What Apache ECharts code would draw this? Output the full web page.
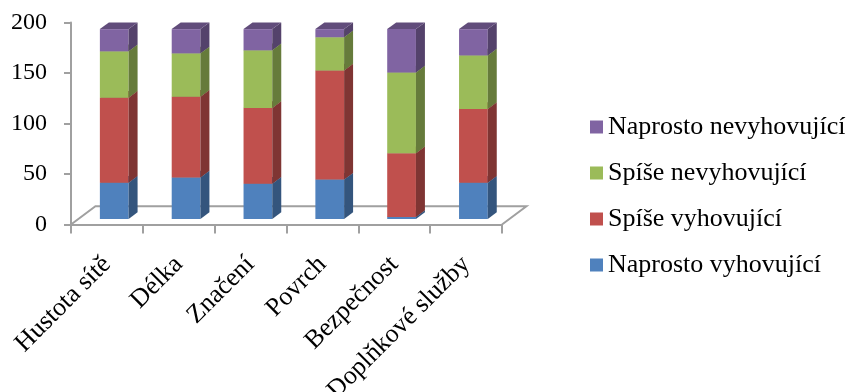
<!DOCTYPE html>
<html>
<head>
<meta charset="utf-8">
<script src="https://cdn.jsdelivr.net/npm/echarts@6/dist/echarts.min.js"></script>
<style>
  html, body { margin: 0; padding: 0; background: #fff; }
  #chart { width: 854px; height: 392px; }
</style>
</head>
<body>
<div id="chart"></div>
<script>
// Hodnocení cyklostezek – počty odpovědí podle kategorie
const categories = ['Hustota sítě', 'Délka', 'Značení', 'Povrch', 'Bezpečnost', 'Doplňkové služby'];
const naprostoVyhovujici   = [36, 41, 35, 39, 2, 36];
const spiseVyhovujici      = [84, 80, 75, 108, 63, 73];
const spiseNevyhovujici    = [46, 43, 57, 33, 80, 53];
const naprostoNevyhovujici = [22, 24, 21, 8, 43, 26];
const yTicks = [0, 50, 100, 150, 200];

const seriesDefs = [
  { name: 'Naprosto vyhovující',   values: naprostoVyhovujici,   color: '#4F81BD' },
  { name: 'Spíše vyhovující',      values: spiseVyhovujici,      color: '#C0504D' },
  { name: 'Spíše nevyhovující',    values: spiseNevyhovujici,    color: '#9BBB59' },
  { name: 'Naprosto nevyhovující', values: naprostoNevyhovujici, color: '#8064A2' }
];

const FONT = "'Liberation Serif', 'Times New Roman', serif";

function shade(hex, k) {
  const n = parseInt(hex.slice(1), 16);
  const r = Math.round(((n >> 16) & 255) * k);
  const g = Math.round(((n >> 8) & 255) * k);
  const b = Math.round((n & 255) * k);
  return 'rgb(' + r + ',' + g + ',' + b + ')';
}

// depth geometry, expressed as fractions of the category band
const FLOOR_DEPTH = 0.34;   // floor depth (x) relative to band width
const SLOPE = 0.75;         // dy/dx of the receding edges
const BAR_SHIFT = 0.3;      // how far back the bar front sits, fraction of floor depth
const BAR_WIDTH = 0.4;      // bar front width, fraction of band
const BAR_DEPTH = 0.125;    // bar depth (x), fraction of band

function makeBoxRenderer(color) {
  const side = shade(color, 0.66);
  const top = shade(color, 0.76);
  return function (params, api) {
    const ci = api.value(0), lo = api.value(1), hi = api.value(2);
    const band = api.size([1, 0])[0];
    const fx = band * FLOOR_DEPTH, fy = fx * SLOPE;
    const offX = fx * BAR_SHIFT, offY = fy * BAR_SHIFT;
    const w = band * BAR_WIDTH;
    const dx = band * BAR_DEPTH, dy = dx * SLOPE;
    const b = api.coord([ci, lo]);
    const t = api.coord([ci, hi]);
    const x0 = b[0] - w / 2 + offX, x1 = x0 + w;
    const yb = b[1] - offY, yt = t[1] - offY;
    return {
      type: 'group',
      children: [
        { type: 'rect', shape: { x: x0, y: yt, width: w, height: yb - yt }, style: { fill: color } },
        { type: 'polygon', shape: { points: [[x1, yb], [x1 + dx, yb - dy], [x1 + dx, yt - dy], [x1, yt]] }, style: { fill: side } },
        { type: 'polygon', shape: { points: [[x0, yt], [x0 + dx, yt - dy], [x1 + dx, yt - dy], [x1, yt]] }, style: { fill: top } }
      ]
    };
  };
}

// stacked segments: [category index, base, top]
const cumulative = categories.map(() => 0);
const boxSeries = seriesDefs.map(def => {
  const data = def.values.map((v, i) => {
    const lo = cumulative[i];
    cumulative[i] += v;
    return [i, lo, cumulative[i]];
  });
  return {
    name: def.name,
    type: 'custom',
    itemStyle: { color: def.color },
    encode: { x: 0, y: [1, 2] },
    renderItem: makeBoxRenderer(def.color),
    data: data,
    z: 3
  };
});

// floor outline behind the bars
const floorSeries = {
  name: 'floor',
  type: 'custom',
  silent: true,
  z: 2,
  data: [[0]],
  renderItem: function (params, api) {
    const band = api.size([1, 0])[0];
    const fx = band * FLOOR_DEPTH, fy = fx * SLOPE;
    const left = api.coord([0, 0]);
    const right = api.coord([categories.length - 1, 0]);
    const xl = left[0] - band / 2, xr = right[0] + band / 2, y = left[1];
    return {
      type: 'polyline',
      shape: { points: [[xl, y], [xl + fx, y - fy], [xr + fx, y - fy], [xr, y]] },
      style: { stroke: '#A0A0A0', lineWidth: 2, fill: null }
    };
  }
};

const chart = echarts.init(document.getElementById('chart'), null, { renderer: 'canvas' });
chart.setOption({
  backgroundColor: '#ffffff',
  animation: false,
  grid: { left: 71, right: 352, top: 22.5, bottom: 167.5, containLabel: false, outerBoundsMode: 'none' },
  legend: {
    orient: 'vertical',
    left: 590,
    top: 114,
    padding: 0,
    data: seriesDefs.map(d => d.name).reverse(),
    icon: 'rect',
    itemWidth: 13,
    itemHeight: 13,
    itemGap: 20,
    textStyle: { fontFamily: FONT, fontSize: 26, color: '#000', lineHeight: 26 }
  },
  xAxis: {
    type: 'category',
    data: categories,
    boundaryGap: true,
    axisLine: { lineStyle: { color: '#A0A0A0', width: 2 } },
    axisTick: { show: true, length: 9, alignWithLabel: false, lineStyle: { color: '#A0A0A0', width: 2 } },
    axisLabel: { rotate: 45, interval: 0, margin: 36, fontFamily: FONT, fontSize: 26, color: '#000' }
  },
  yAxis: {
    type: 'value',
    min: yTicks[0],
    max: yTicks[yTicks.length - 1],
    interval: yTicks[1] - yTicks[0],
    axisLine: { show: true, lineStyle: { color: '#A0A0A0', width: 2 } },
    axisTick: { show: true, length: 7, lineStyle: { color: '#A0A0A0', width: 2 } },
    splitLine: { show: false },
    axisLabel: { margin: 24, fontFamily: FONT, fontSize: 24, color: '#000' }
  },
  series: [floorSeries].concat(boxSeries)
});
</script>
</body>
</html>
